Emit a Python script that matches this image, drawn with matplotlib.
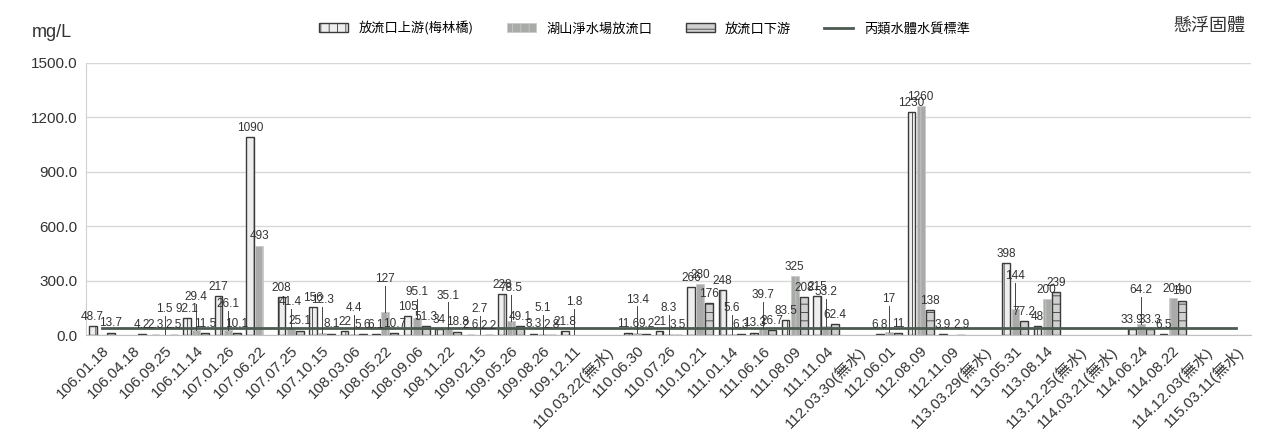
import numpy as np
import matplotlib.pyplot as plt

plt.rcParams['font.family'] = ['Liberation Sans', 'Noto Sans CJK TC', 'DejaVu Sans']
plt.rcParams['hatch.linewidth'] = 0.6

nan = np.nan

dates = ["106.01.18", "106.04.18", "106.09.25", "106.11.14", "107.01.26", "107.06.22",
         "107.07.25", "107.10.15", "108.03.06", "108.05.22", "108.09.06", "108.11.22",
         "109.02.15", "109.05.26", "109.08.26", "109.12.11", "110.03.22(無水)", "110.06.30",
         "110.07.26", "110.10.21", "111.01.14", "111.06.16", "111.08.09", "111.11.04",
         "112.03.30(無水)", "112.06.01", "112.08.09", "112.11.09", "113.03.29(無水)", "113.05.31",
         "113.08.14", "113.12.25(無水)", "114.03.21(無水)", "114.06.24", "114.08.22",
         "114.12.03(無水)", "115.03.11(無水)"]

upstream = [48.7, nan, 2.3, 92.1, 217, 1090, 208, 156, 22.0, 6.1, 105, 34.0, 2.6, 228, 8.3, 21.8,
            nan, 11.6, 21, 266, 248, 13.3, 83.5, 215, nan, 6.8, 1230, 3.9, nan, 398, 48, nan, nan,
            33.9, 6.5, nan, nan]
plant = [nan, nan, 1.5, 29.4, 26.1, 493, 41.4, 12.3, 4.4, 127, 95.1, 35.1, 2.7, 78.5, 5.1, 1.8,
         nan, 13.4, 8.3, 280, 5.6, 39.7, 325, 53.2, nan, 17, 1260, nan, nan, 144, 200, nan, nan,
         64.2, 204, nan, nan]
downstream = [13.7, 4.2, 2.5, 11.5, 10.1, nan, 25.1, 8.1, 5.6, 10.7, 51.3, 18.8, 2.2, 49.1, 2.8, nan,
              nan, 9.2, 3.5, 176, 6.3, 26.7, 208, 62.4, nan, 11, 138, 2.9, nan, 77.2, 239, nan, nan,
              33.3, 190, nan, nan]
standard = [40] * len(dates)

x = np.arange(len(dates))
w = 0.25

fig = plt.figure(figsize=(12.64, 4.37), dpi=100)
ax = fig.add_axes([0.068, 0.233, 0.922, 0.623])

b1 = ax.bar(x - 0.29, upstream, w, facecolor='#eeeeee', edgecolor='#3a3a3a', linewidth=1.0,
            hatch='||', label='放流口上游(梅林橋)')
b2 = ax.bar(x, plant, w, facecolor='#a9aba9', edgecolor='#c8c8c8', linewidth=0.5,
            hatch='||', label='湖山淨水場放流口')
b3 = ax.bar(x + 0.29, downstream, w, facecolor='#d0d0d0', edgecolor='#3a3a3a', linewidth=1.0,
            hatch='--', label='放流口下游')
ln, = ax.plot(x, standard, color='#4d5a52', linewidth=2.0, label='丙類水體水質標準')

# data labels; small plant values get lifted with a leader line like the original
for k, (bars, vals) in enumerate([(b1, upstream), (b2, plant), (b3, downstream)]):
    for i, (rect, v) in enumerate(zip(bars, vals)):
        if np.isnan(v):
            continue
        cx = rect.get_x() + rect.get_width() / 2
        if k == 1 and v < 150:
            ty = v + 110 + 40 * (i % 2)
            ax.plot([cx, cx], [v, ty - 5], color='#444444', linewidth=0.7)
        else:
            ty = v + 18
        ax.text(cx, ty, f"{v:g}", ha='center', va='bottom', fontsize=8.5, color='#333333')

ax.set_xlim(-0.5, len(dates) - 0.5)
ax.set_ylim(0, 1500)
ax.set_yticks(np.arange(0, 1501, 300))
ax.set_yticklabels([f"{t:.1f}" for t in np.arange(0, 1501, 300)], fontsize=11, color='#333333')
ax.set_xticks(x)
ax.set_xticklabels(dates, rotation=45, ha='right', rotation_mode='anchor', fontsize=11,
                   color='#333333')
ax.tick_params(axis='both', length=0, pad=6)
ax.yaxis.grid(True, color='#d8d8d8', linewidth=1.0)
ax.set_axisbelow(True)
for s in ['top', 'right']:
    ax.spines[s].set_visible(False)
ax.spines['left'].set_color('#d0d0d0')
ax.spines['bottom'].set_color('#c0c0c0')

fig.text(0.025, 0.925, 'mg/L', fontsize=13, color='#333333', ha='left', va='center')
fig.text(0.985, 0.94, '懸浮固體', fontsize=13, color='#333333', ha='right', va='center',
         family=['Noto Sans CJK TC'])
fig.legend(handles=[b1, b2, b3, ln], loc='center', bbox_to_anchor=(0.51, 0.935), ncol=4,
           frameon=False, handlelength=2.2, columnspacing=2.5,
           prop={'family': ['Noto Sans CJK TC'], 'size': 9.5})

fig.savefig('out.png', dpi=100)
